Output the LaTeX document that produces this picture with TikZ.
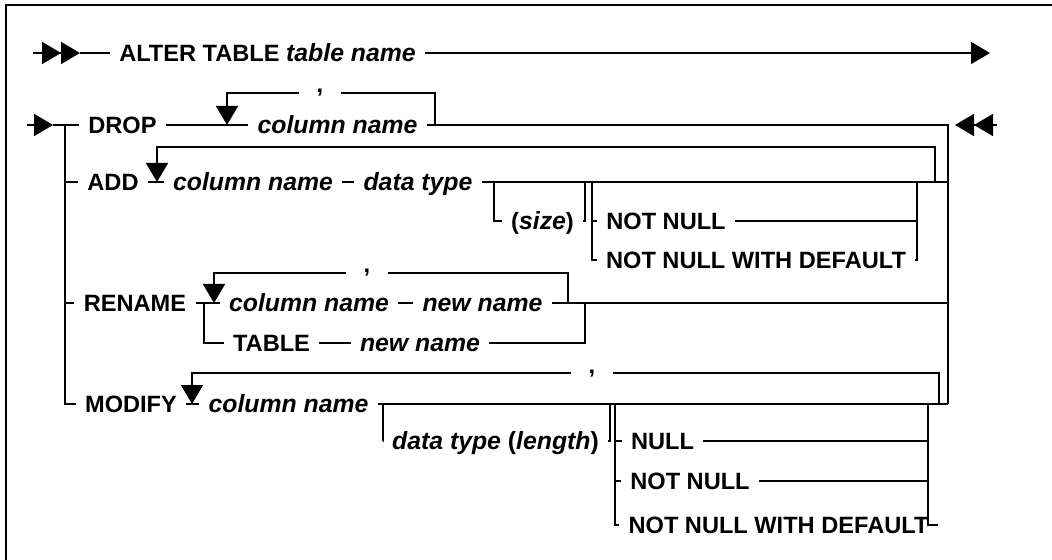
\documentclass[tikz,border=0pt]{standalone}
\usepackage{fontspec}
\setmainfont{Liberation Sans}
\usetikzlibrary{arrows.meta}

\begin{document}
\begin{tikzpicture}[
    x=0.5pt, y=-0.5pt,
    rail/.style={black,line width=0.85pt},
    tip/.style={rail,-{Triangle[length=9.5pt,width=11pt]}},
    twotips/.style={rail,-{Triangle[length=9.5pt,width=11pt]Triangle[length=9.5pt,width=11pt]}},
    kw/.style={font=\fontsize{11.8}{14}\selectfont\bfseries,inner xsep=4.5pt,
      inner ysep=0pt,text height=8.4pt,text depth=0pt},
    var/.style={kw,font=\fontsize{12.4}{14}\selectfont\bfseries\itshape},
    sep/.style={font=\fontsize{11.8}{14}\selectfont\bfseries,inner sep=0pt,
      minimum width=21pt,text height=2pt,text depth=2pt},
  ]
  \useasboundingbox (0,0) rectangle (1052,560);

  % Frame
  \draw[rail] (1052,5) -- (6,5) -- (6,560);

  % Statement head
  \coordinate (head) at (33,53);
  \coordinate (headtip) at (80,53);
  \coordinate (headend) at (990,53);
  \node[kw] (alter) at (267.5,53) {ALTER TABLE \textit{\fontsize{12.4}{14}\selectfont table name}};
  \draw[twotips] (head) -- (headtip);
  \draw[rail] (headtip) -- (alter.west);
  \draw[tip] (alter.east) -- (headend);

  % Rails
  \coordinate (in) at (27,125);
  \coordinate (intip) at (53,125);
  \coordinate (busL) at (65,125);
  \coordinate (busR) at (948,125);
  \coordinate (out) at (997,125);
  \coordinate (outtip) at (955,125);

  % DROP
  \node[kw] (drop) at (122.5,125) {DROP};
  \node[var] (dropcol) at (337.5,125) {column name};
  \node[sep] (dropsep) at (320,93) {,};
  \coordinate (droploop) at (435,125);
  \coordinate (dropin) at (227,125);
  \draw[tip] (in) -- (intip);
  \draw[rail] (intip) -- (drop.west);
  \draw[rail] (drop.east) -- (dropcol.west);
  \draw[rail] (droploop) |- (dropsep.east);
  \draw[tip] (dropsep.west) -| (dropin);

  % ADD
  \node[kw] (addkw) at (113,182) {ADD};
  \node[var] (addcol) at (253,182) {column name};
  \node[var] (addtype) at (418,182) {data type};
  \node[kw] (addsize) at (542.5,221) {(\textit{\fontsize{12.4}{14}\selectfont size})};
  \node[kw] (addnn) at (666,221) {NOT NULL};
  \node[kw] (addnnwd) at (756,260) {NOT NULL WITH DEFAULT};
  \coordinate (addloop) at (935,182);
  \coordinate (addtop) at (157,147);
  \coordinate (addin) at (157,182);
  \coordinate (sizeout) at (494,182);
  \coordinate (sizein) at (585,182);
  \coordinate (addopt) at (592,182);
  \coordinate (addend) at (917,182);
  \draw[rail] (busL |- addkw) -- (addkw.west);
  \draw[rail] (addkw.east) -- (addcol.west);
  \draw[rail] (addcol.east) -- (addtype.west);
  \draw[rail] (addtype.east) -- (busR |- addtype);
  \draw[tip] (addloop) |- (addtop) -- (addin);
  \draw[rail] (sizeout) |- (addsize.west);
  \draw[rail] (addsize.east) -| (sizein);
  \draw[rail] (addopt) |- (addnnwd.west);
  \draw[rail] (addopt |- addnn) -- (addnn.west);
  \draw[rail] (addnn.east) -- (addend |- addnn);
  \draw[rail] (addnnwd.east) -| (addend);

  % RENAME
  \node[kw] (renkw) at (135,303) {RENAME};
  \node[var] (rencol) at (309,303) {column name};
  \node[var] (renname) at (482.5,303) {new name};
  \node[kw] (rentable) at (271.5,343) {TABLE};
  \node[var] (rentname) at (420,343) {new name};
  \node[sep] (rensep) at (367,273) {,};
  \coordinate (renfork) at (204,303);
  \coordinate (renin) at (214,303);
  \coordinate (renloop) at (568,303);
  \coordinate (renjoin) at (585,303);
  \draw[rail] (busL |- renkw) -- (renkw.west);
  \draw[rail] (renkw.east) -- (rencol.west);
  \draw[rail] (rencol.east) -- (renname.west);
  \draw[rail] (renname.east) -- (busR |- renname);
  \draw[rail] (renfork) |- (rentable.west);
  \draw[rail] (rentable.east) -- (rentname.west);
  \draw[rail] (rentname.east) -| (renjoin);
  \draw[rail] (renloop) |- (rensep.east);
  \draw[tip] (rensep.west) -| (renin);

  % MODIFY
  \node[kw] (modkw) at (131,404) {MODIFY};
  \node[var] (modcol) at (288.5,404) {column name};
  \node[kw] (modtype) at (495.5,441) {\fontsize{12.4}{14}\selectfont\textit{data type} (\textit{length})};
  \node[kw] (modnull) at (662.5,441) {NULL};
  \node[kw] (modnn) at (690,481) {NOT NULL};
  \node[kw] (modnnwd) at (778.5,525) {NOT NULL WITH DEFAULT};
  \node[sep] (modsep) at (592,373) {,};
  \coordinate (modin) at (192,404);
  \coordinate (modloop) at (939,404);
  \coordinate (typeout) at (383,404);
  \coordinate (typein) at (610,404);
  \coordinate (modopt) at (615,404);
  \coordinate (modend) at (928,404);
  \draw[rail] (busL) |- (modkw.west);
  \draw[rail] (modkw.east) -- (modcol.west);
  \draw[rail] (modcol.east) -- (busR |- modcol);
  \draw[rail] (modloop) |- (modsep.east);
  \draw[tip] (modsep.west) -| (modin);
  \draw[rail] (typeout) |- (modtype.west);
  \draw[rail] (modtype.east) -| (typein);
  \draw[rail] (modopt) |- (modnnwd.west);
  \foreach \opt in {modnull,modnn} {
    \draw[rail] (modopt |- \opt.west) -- (\opt.west);
    \draw[rail] (\opt.east) -- (modend |- \opt.east);
  }
  \draw[rail] (modnnwd.east) -| (modend);

  % Right rail and end
  \draw[rail] (dropcol.east) -- (busR) -- (busR |- modcol);
  \draw[twotips] (out) -- (outtip);
\end{tikzpicture}
\end{document}
